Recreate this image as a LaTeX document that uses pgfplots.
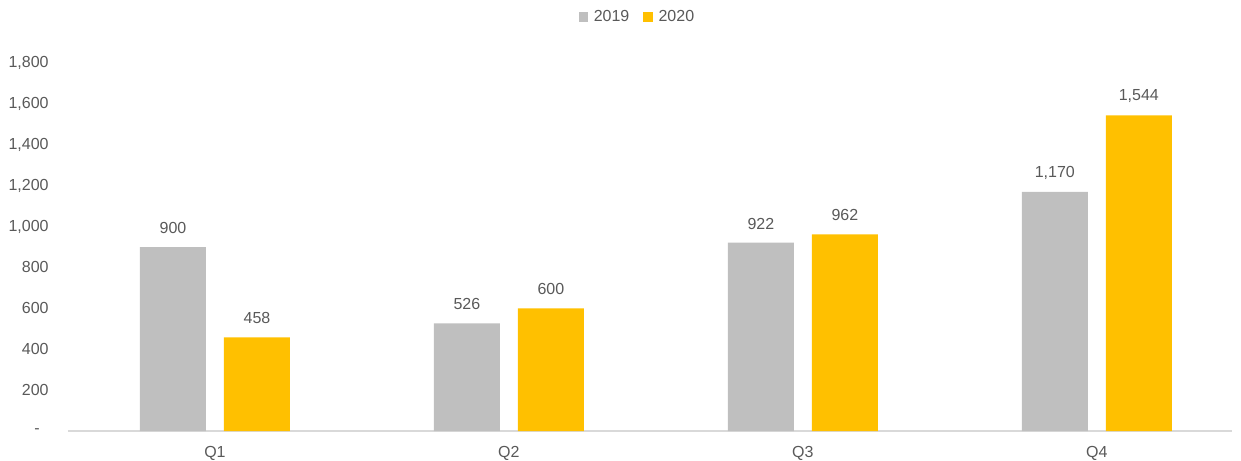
\documentclass[border=0pt]{standalone}
\usepackage{pgfplots}
\pgfplotsset{compat=1.18}
\usepackage{fontspec}
\setmainfont{Liberation Sans}
\definecolor{cgray}{HTML}{BFBFBF}
\definecolor{cgold}{HTML}{FFC000}
\definecolor{ctext}{HTML}{595959}
\definecolor{cline}{HTML}{D9D9D9}
\begin{document}
\begin{tikzpicture}
\begin{axis}[
  scale only axis,
  width=582pt, height=184pt,
  ybar=9pt, bar width=33pt,
  xmin=-0.5, xmax=3.46,
  ymin=0, ymax=1800,
  xtick=data, xticklabels={Q1,Q2,Q3,Q4},
  ytick={0,200,...,1800},
  yticklabels={{-\kern4.5pt\null},200,400,600,800,{1,000},{1,200},{1,400},{1,600},{1,800}},
  axis lines*=left,
  x axis line style={draw=cline, line width=0.8pt},
  y axis line style={draw=none},
  major tick length=0pt,
  font=\fontsize{8}{9.6}\selectfont,
  tick label style={text=ctext},
  /pgf/number format/assume math mode=true,
  /pgf/number format/1000 sep={,},
  yticklabel style={anchor=east, inner sep=0pt, xshift=-9.5pt},
  xticklabel style={anchor=center, inner sep=0pt, yshift=-11pt},
  nodes near coords,
  every node near coord/.append style={text=ctext, anchor=center, yshift=9.5pt, inner sep=0pt, font=\fontsize{8}{9.6}\selectfont},
  legend columns=2,
  legend style={at={(0.49,1.125)}, anchor=center, draw=none, fill=none, font=\fontsize{8}{9.6}\selectfont, text=ctext, /tikz/every even column/.append style={column sep=5pt}, inner sep=0pt, /tikz/every odd column/.append style={column sep=1pt}},
  legend image code/.code={\fill[#1] (0pt,-2.3pt) rectangle (4.6pt,2.3pt);},
  legend cell align=left,
]
\addplot[fill=cgray, draw=none] coordinates {(0,900) (1,526) (2,922) (3,1170)};
\addplot[fill=cgold, draw=none] coordinates {(0,458) (1,600) (2,962) (3,1544)};
\legend{2019,2020}
\path (rel axis cs:0,0) ++(-34pt,-14.5pt) coordinate (bl);
\path (rel axis cs:1,1) ++(4.5pt,31.5pt) coordinate (tr);
\end{axis}
\path (bl) rectangle (tr);
\end{tikzpicture}
\end{document}
